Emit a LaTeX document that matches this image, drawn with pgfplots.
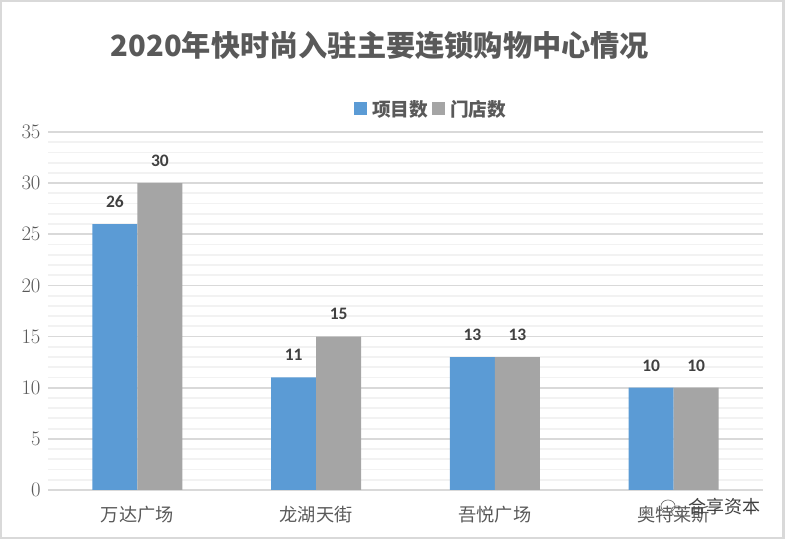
\documentclass[border=0pt]{standalone}
\usepackage{pgfplots}
\pgfplotsset{compat=1.18}
\usepackage{fontspec}
\setmainfont{Carlito}
\newfontfamily\cjk{Noto Sans CJK SC}
\definecolor{barblue}{HTML}{5B9BD5}
\definecolor{bargray}{HTML}{A5A5A5}
\definecolor{gmaj}{HTML}{D9D9D9}
\definecolor{gmin}{HTML}{F2F2F2}
\definecolor{txt}{HTML}{595959}
\begin{document}
\begin{tikzpicture}[x=1bp,y=1bp]
\path[use as bounding box] (0,0) rectangle (786,541);
\draw[gmaj,line width=2.5bp] (1.2,3) rectangle (783.5,539.8);
\node[font={\cjk\bfseries\fontsize{29.2bp}{32bp}\selectfont},text=txt,anchor=center] at (380,495) {2020年快时尚入驻主要连锁购物中心情况};
\begin{axis}[
  at={(48bp,51bp)},anchor=south west,
  scale only axis,width=715bp,height=358bp,
  xmin=-0.5,xmax=3.5,ymin=0,ymax=35,
  ybar=0pt,bar width=45bp,
  axis x line*=bottom,axis y line*=left,
  x axis line style={gmaj,line width=2bp,-},
  y axis line style={draw=none},
  xtick={0,1,2,3},
  xticklabels={万达广场,龙湖天街,吾悦广场,奥特莱斯},
  xtick style={draw=none},ytick style={draw=none},minor tick length=0pt,
  x tick label style={font={\cjk\fontsize{18.2bp}{20bp}\selectfont},text=txt,yshift=-8bp},
  y tick label style={font=\fontsize{19bp}{20bp}\selectfont,text=txt,xshift=-4bp},
  ymajorgrids,yminorgrids,
  ytick={0,5,...,35},minor ytick={1,2,3,4,6,7,8,9,11,12,13,14,16,17,18,19,21,22,23,24,26,27,28,29,31,32,33,34},
  major grid style={gmaj,line width=1.8bp},
  minor grid style={gmin,line width=1.8bp},
  clip=false,
  nodes near coords={\textbf{\pgfmathprintnumber[assume math mode=true]{\pgfplotspointmeta}}},
  every node near coord/.append style={font=\fontsize{17.5bp}{18bp}\selectfont,text=black!75,yshift=13bp},
  legend columns=2,
  legend style={at={(0.536,1.064)},anchor=center,draw=none,fill=none,
    font={\cjk\bfseries\fontsize{18.7bp}{20bp}\selectfont},text=txt,
    /tikz/every even column/.append style={column sep=2bp},
    /tikz/every odd column/.append style={column sep=3bp}},
  legend image code/.code={\fill[#1,draw=none] (0bp,-6bp) rectangle (13bp,7bp);},
]
\addplot[fill=barblue,draw=none] coordinates {(0,26) (1,11) (2,13) (3,10)};
\addplot[fill=bargray,draw=none] coordinates {(0,30) (1,15) (2,13) (3,10)};
\legend{项目数,门店数}
\end{axis}
\node[font={\cjk\fontsize{18bp}{20bp}\selectfont},text=black!75,anchor=center] at (724,34) {合享资本};
\draw[black!55,line width=0.7bp] (668,35) ellipse (7bp and 6bp);
\draw[black!55,line width=0.7bp] (677,30) ellipse (6bp and 5bp);
\end{tikzpicture}
\end{document}
